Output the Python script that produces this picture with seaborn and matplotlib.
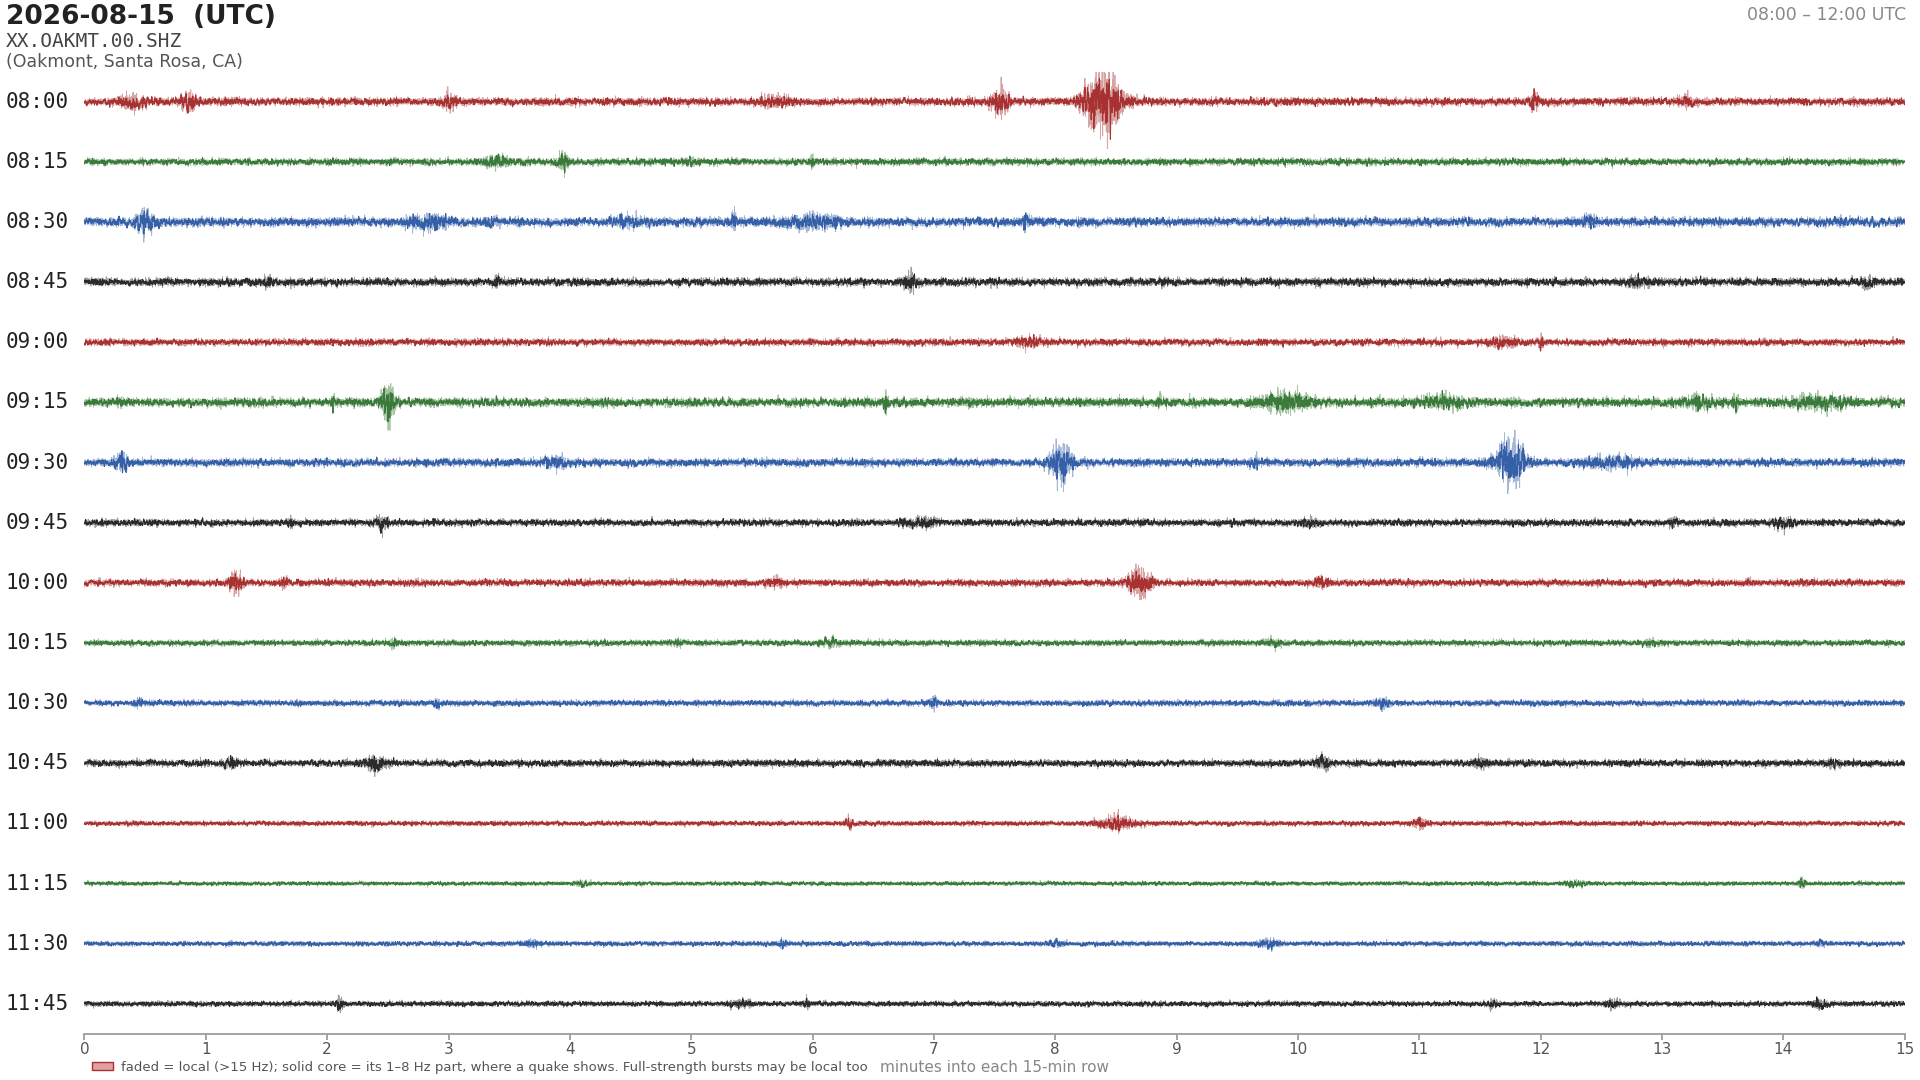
import numpy as np
import matplotlib
matplotlib.use("Agg")
import matplotlib.pyplot as plt
import seaborn as sns
from matplotlib.patches import Patch

sns.set_theme(style="white")
plt.rcParams['font.family'] = ['DejaVu Sans']

row_labels = ["08:00", "08:15", "08:30", "08:45", "09:00", "09:15", "09:30", "09:45",
              "10:00", "10:15", "10:30", "10:45", "11:00", "11:15", "11:30", "11:45"]
row_colors = ["#a83232", "#3a7a3a", "#3560a8", "#2b2b2b"] * 4
# background noise level per row (fraction of row spacing), read by eye
noise_level = [0.030, 0.026, 0.034, 0.030, 0.026, 0.034, 0.030, 0.026,
               0.026, 0.022, 0.022, 0.026, 0.018, 0.015, 0.018, 0.020]
# events: (row, minute, peak amplitude, duration in min)
events = [
    (0, 0.4, 0.05, 0.2), (0, 0.85, 0.06, 0.12), (0, 3.0, 0.05, 0.1), (0, 5.7, 0.04, 0.2),
    (0, 7.55, 0.11, 0.12), (0, 8.4, 0.26, 0.25), (0, 11.95, 0.08, 0.06), (0, 13.2, 0.03, 0.1),
    (1, 3.4, 0.04, 0.2), (1, 3.95, 0.06, 0.08), (1, 5.0, 0.02, 0.1), (1, 6.0, 0.03, 0.05),
    (2, 0.5, 0.07, 0.15), (2, 2.85, 0.06, 0.25), (2, 3.35, 0.03, 0.1), (2, 4.5, 0.03, 0.2),
    (2, 5.35, 0.09, 0.03), (2, 6.0, 0.04, 0.4), (2, 7.75, 0.04, 0.06), (2, 12.4, 0.03, 0.1),
    (3, 1.5, 0.03, 0.05), (3, 3.4, 0.04, 0.05), (3, 6.8, 0.05, 0.1), (3, 12.8, 0.03, 0.15),
    (3, 14.7, 0.04, 0.08),
    (4, 7.8, 0.03, 0.2), (4, 11.7, 0.03, 0.2), (4, 12.0, 0.05, 0.03),
    (5, 2.05, 0.05, 0.03), (5, 2.5, 0.20, 0.08), (5, 6.6, 0.04, 0.03), (5, 7.3, 0.03, 0.05),
    (5, 8.85, 0.05, 0.03), (5, 9.9, 0.06, 0.35), (5, 11.2, 0.04, 0.3), (5, 13.3, 0.04, 0.2),
    (5, 13.6, 0.04, 0.05), (5, 14.3, 0.04, 0.4),
    (6, 0.3, 0.06, 0.1), (6, 3.9, 0.03, 0.2), (6, 8.05, 0.16, 0.15), (6, 9.65, 0.04, 0.05),
    (6, 11.75, 0.19, 0.2), (6, 12.6, 0.03, 0.4),
    (7, 1.7, 0.03, 0.05), (7, 2.45, 0.04, 0.1), (7, 6.9, 0.03, 0.2), (7, 10.1, 0.03, 0.1),
    (7, 13.1, 0.03, 0.08), (7, 14.0, 0.03, 0.15),
    (8, 1.25, 0.07, 0.1), (8, 1.65, 0.04, 0.05), (8, 5.7, 0.03, 0.1), (8, 8.7, 0.13, 0.15),
    (8, 10.2, 0.03, 0.1), (8, 13.7, 0.02, 0.05),
    (9, 2.55, 0.03, 0.05), (9, 4.9, 0.02, 0.05), (9, 6.15, 0.03, 0.1), (9, 9.8, 0.02, 0.1),
    (9, 12.9, 0.02, 0.1),
    (10, 0.45, 0.03, 0.05), (10, 1.75, 0.02, 0.05), (10, 2.9, 0.02, 0.05), (10, 7.0, 0.05, 0.05),
    (10, 10.7, 0.03, 0.1),
    (11, 1.2, 0.02, 0.1), (11, 2.4, 0.05, 0.15), (11, 10.2, 0.05, 0.1), (11, 11.5, 0.03, 0.1),
    (11, 14.4, 0.03, 0.1),
    (12, 6.3, 0.04, 0.05), (12, 8.5, 0.05, 0.25), (12, 11.0, 0.04, 0.1),
    (13, 4.1, 0.02, 0.1), (13, 12.3, 0.02, 0.15), (13, 14.15, 0.04, 0.05),
    (14, 3.7, 0.02, 0.1), (14, 5.75, 0.03, 0.05), (14, 8.0, 0.02, 0.1), (14, 9.75, 0.03, 0.15),
    (14, 14.3, 0.02, 0.05),
    (15, 2.1, 0.04, 0.05), (15, 5.4, 0.02, 0.15), (15, 5.95, 0.03, 0.05), (15, 11.6, 0.03, 0.05),
    (15, 12.6, 0.03, 0.1), (15, 14.3, 0.03, 0.1),
]

rng = np.random.default_rng(7)
t = np.linspace(0, 15, 18000)
fig = plt.figure(figsize=(19.2, 10.8), dpi=100)
ax = fig.add_axes([0.044, 0.0427, 0.948, 0.891])

kern = np.ones(6) / 6
for i, lab in enumerate(row_labels):
    env = np.full_like(t, noise_level[i])
    for r, m, a, d in events:
        if r == i:
            env += a * np.exp(-0.5 * ((t - m) / (d / 2.5)) ** 2)
    raw = rng.standard_normal(t.size) * env
    core = np.convolve(raw, kern, mode="same") * 1.8
    y0 = -i
    ax.plot(t, y0 + raw, color=row_colors[i], lw=0.6, alpha=0.45)
    ax.plot(t, y0 + core, color=row_colors[i], lw=0.8)
    x_lab = -0.041 / 0.948
    ax.text(x_lab, y0, lab, transform=ax.get_yaxis_transform(), ha="left", va="center",
            family="DejaVu Sans Mono", fontsize=15, color="#222222", clip_on=False)

ax.set_xlim(0, 15)
ax.set_ylim(-15.5, 0.5)
ax.set_xticks(range(16))
ax.set_yticks([])
for s in ["top", "left", "right"]:
    ax.spines[s].set_visible(False)
ax.spines["bottom"].set_color("#999999")
ax.tick_params(axis="x", bottom=True, color="#999999", labelcolor="#555555", labelsize=11, length=4, pad=2)

fig.text(0.003, 0.984, "2026-08-15  (UTC)", fontsize=19, fontweight="bold", color="#222222", va="center")
fig.text(0.003, 0.962, "XX.OAKMT.00.SHZ", fontsize=14, family="DejaVu Sans Mono", color="#444444", va="center")
fig.text(0.003, 0.943, "(Oakmont, Santa Rosa, CA)", fontsize=12.5, color="#555555", va="center")
fig.text(0.993, 0.986, "08:00 \u2013 12:00 UTC", fontsize=12.5, color="#888888", va="center", ha="right")
fig.text(0.518, 0.012, "minutes into each 15-min row", color="#888888", fontsize=11, ha="center", va="center")

leg = fig.legend(handles=[Patch(facecolor="#e0a0a0", edgecolor="#a83232")],
                 labels=["faded = local (>15 Hz); solid core = its 1\u20138 Hz part, where a quake shows. Full-strength bursts may be local too"],
                 loc="center left", bbox_to_anchor=(0.045, 0.012), frameon=False, fontsize=9.5,
                 handlelength=1.6, handleheight=0.6, borderaxespad=0, handletextpad=0.6)
for txt in leg.get_texts():
    txt.set_color("#555555")

fig.savefig("out.png", dpi=100, facecolor="white")
